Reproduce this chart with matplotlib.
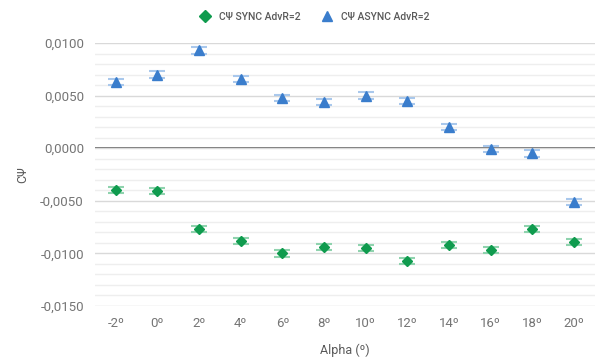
import matplotlib.pyplot as plt
from matplotlib.lines import Line2D
from matplotlib.ticker import FuncFormatter, MultipleLocator

# angles of attack and force coefficient for both runs
alpha = ["-2º", "0º", "2º", "4º", "6º", "8º", "10º", "12º", "14º", "16º", "18º", "20º"]
c_sync = [-0.0040, -0.0041, -0.0077, -0.0088, -0.0100, -0.0094,
          -0.0095, -0.0107, -0.0092, -0.0097, -0.0077, -0.0089]
c_async = [0.0063, 0.0070, 0.0093, 0.0066, 0.0048, 0.0044,
           0.0050, 0.0045, 0.0020, -0.0001, -0.0005, -0.0051]
err_sync = [0.0003] * len(alpha)
err_async = [0.0003] * len(alpha)

sync_color = '#0f9b4e'
async_color = '#3a7dcc'

plt.rcParams['font.family'] = ['Roboto', 'DejaVu Sans']

fig = plt.figure(figsize=(5.99, 3.58), dpi=100)
ax = fig.add_axes([0.1586, 0.1453, 0.8347, 0.7346])

x = list(range(len(alpha)))

ax.errorbar(x, c_sync, yerr=err_sync, fmt='D', color=sync_color, markersize=5.5,
            ecolor='#8fd3ae', elinewidth=1.2, capsize=6, capthick=1.5, zorder=3)
ax.errorbar(x, c_async, yerr=err_async, fmt='^', color=async_color, markersize=6.5,
            ecolor='#a9c8ec', elinewidth=1.2, capsize=6, capthick=1.5, zorder=3)

ax.set_xlim(-0.5, len(alpha) - 0.5)
ax.set_ylim(-0.015, 0.010)
ax.set_xticks(x)
ax.set_xticklabels(alpha)

ax.yaxis.set_major_locator(MultipleLocator(0.005))
ax.yaxis.set_minor_locator(MultipleLocator(0.001))
ax.yaxis.set_major_formatter(FuncFormatter(lambda v, p: f"{v:.4f}".replace('.', ',').replace('-0,0000', '0,0000')))
ax.grid(True, which='major', axis='y', color='#d9d9d9', linewidth=1.0, zorder=0)
ax.grid(True, which='minor', axis='y', color='#eeeeee', linewidth=1.0, zorder=0)
ax.axhline(0, color='#555555', linewidth=1.2, zorder=1)

for s in ax.spines.values():
    s.set_visible(False)
ax.tick_params(axis='both', which='both', length=0, colors='#757575', labelsize=9.5)
ax.tick_params(axis='x', pad=8)
ax.tick_params(axis='y', pad=8)

ax.set_xlabel("Alpha (º)", color='#595959', fontsize=9, labelpad=10)
ax.set_ylabel("CΨ", color='#595959', fontsize=9, labelpad=8)

handles = [
    Line2D([], [], linestyle='none', marker='D', markersize=6.5, color=sync_color),
    Line2D([], [], linestyle='none', marker='^', markersize=7.5, color=async_color),
]
ax.legend(handles, ['CΨ SYNC AdvR=2', 'CΨ ASYNC AdvR=2'], loc='lower center',
          bbox_to_anchor=(0.434, 1.045), ncol=2, frameon=False,
          labelcolor='#595959', handletextpad=0.3, columnspacing=1.6,
          prop={'weight': 'medium', 'size': 7.5})

fig.savefig("out.png", dpi=100)
